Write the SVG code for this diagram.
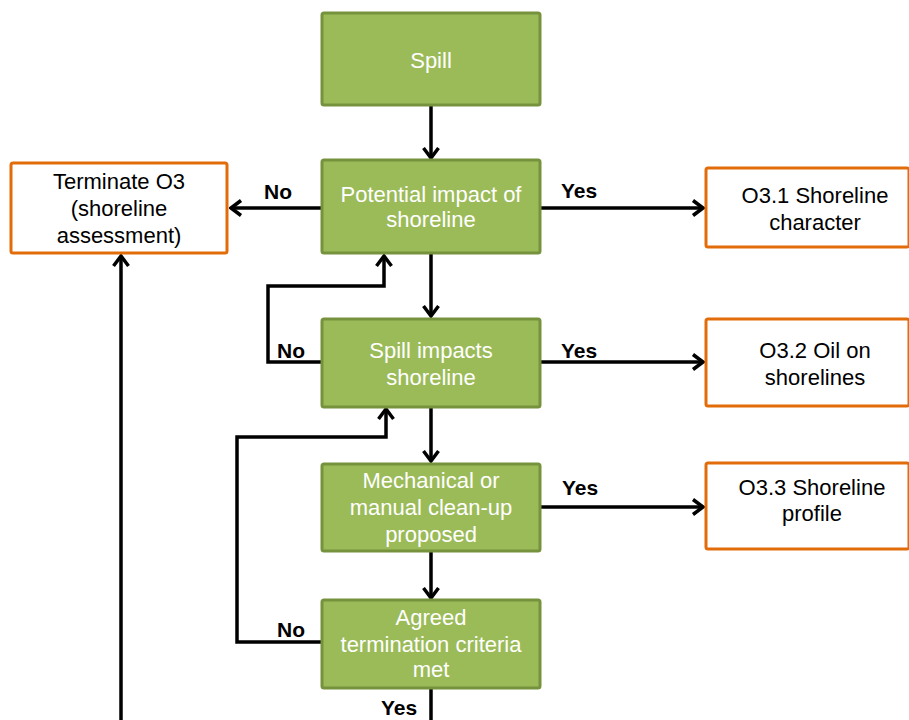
<svg xmlns="http://www.w3.org/2000/svg" width="909" height="720" viewBox="0 0 909 720">
<defs>
<style>
.g{fill:#9BBB59;stroke:#76923C;stroke-width:3}
.o{fill:#FFFFFF;stroke:#E36C0A;stroke-width:3}
.tw{font-family:"Liberation Sans",Arial,sans-serif;font-size:22px;fill:#FFFFFF;text-anchor:middle}
.tb{font-family:"Liberation Sans",Arial,sans-serif;font-size:22px;fill:#000000;text-anchor:middle}
.lb{font-family:"Liberation Sans",Arial,sans-serif;font-size:21px;font-weight:bold;fill:#000000}
.c{fill:none;stroke:#000000;stroke-width:3.5}
</style>
<marker id="ah" viewBox="0 0 14 18" refX="12" refY="9" markerWidth="14" markerHeight="18" markerUnits="userSpaceOnUse" orient="auto">
<path d="M2,1.5 L12,9 L2,16.5" fill="none" stroke="#000000" stroke-width="3.5"/>
</marker>
</defs>
<rect width="909" height="720" fill="#FFFFFF"/>
<g id="connectors">
<path class="c" d="M431,105 V158" marker-end="url(#ah)"/>
<path class="c" d="M431,254 V316" marker-end="url(#ah)"/>
<path class="c" d="M431,408 V461" marker-end="url(#ah)"/>
<path class="c" d="M431,552 V598" marker-end="url(#ah)"/>
<path class="c" d="M431,689 V720"/>
<path class="c" d="M322,208 H231" marker-end="url(#ah)"/>
<path class="c" d="M540,208 H703" marker-end="url(#ah)"/>
<path class="c" d="M540,362 H703" marker-end="url(#ah)"/>
<path class="c" d="M540,507 H703" marker-end="url(#ah)"/>
<path class="c" d="M322,362 H268 V286 H384 V256" marker-end="url(#ah)"/>
<path class="c" d="M322,642 H237 V437 H386 V409" marker-end="url(#ah)"/>
<path class="c" d="M121,720 V256" marker-end="url(#ah)"/>
<text class="lb" x="264" y="199">No</text>
<text class="lb" x="561" y="198">Yes</text>
<text class="lb" x="277" y="358">No</text>
<text class="lb" x="561" y="358">Yes</text>
<text class="lb" x="562" y="495">Yes</text>
<text class="lb" x="277" y="637">No</text>
<text class="lb" x="381" y="715">Yes</text>
</g>
<g id="spill">
<rect class="g" x="322" y="13" width="218" height="92" rx="2"/>
<text class="tw" x="431" y="68">Spill</text>
</g>
<g id="potential">
<rect class="g" x="322" y="160" width="218" height="93" rx="2"/>
<text class="tw" x="431" y="202">Potential impact of</text>
<text class="tw" x="431" y="227">shoreline</text>
</g>
<g id="impacts">
<rect class="g" x="322" y="319" width="218" height="88" rx="2"/>
<text class="tw" x="431" y="358">Spill impacts</text>
<text class="tw" x="431" y="385">shoreline</text>
</g>
<g id="mechanical">
<rect class="g" x="322" y="464" width="218" height="87" rx="2"/>
<text class="tw" x="431" y="488">Mechanical or</text>
<text class="tw" x="431" y="515">manual clean-up</text>
<text class="tw" x="431" y="542">proposed</text>
</g>
<g id="agreed">
<rect class="g" x="322" y="600" width="218" height="88" rx="2"/>
<text class="tw" x="431" y="625">Agreed</text>
<text class="tw" x="431" y="652">termination criteria</text>
<text class="tw" x="431" y="677">met</text>
</g>
<g id="terminate">
<rect class="o" x="11" y="163" width="216" height="90" rx="2"/>
<text class="tb" x="119" y="189">Terminate O3</text>
<text class="tb" x="119" y="216">(shoreline</text>
<text class="tb" x="119" y="243">assessment)</text>
</g>
<g id="o31">
<rect class="o" x="706" y="168" width="203" height="79" rx="2"/>
<text class="tb" x="815" y="203">O3.1 Shoreline</text>
<text class="tb" x="815" y="230">character</text>
</g>
<g id="o32">
<rect class="o" x="706" y="319" width="203" height="87" rx="2"/>
<text class="tb" x="815" y="358">O3.2 Oil on</text>
<text class="tb" x="815" y="385">shorelines</text>
</g>
<g id="o33">
<rect class="o" x="706" y="463" width="203" height="86" rx="2"/>
<text class="tb" x="812" y="495">O3.3 Shoreline</text>
<text class="tb" x="812" y="521">profile</text>
</g>
</svg>
